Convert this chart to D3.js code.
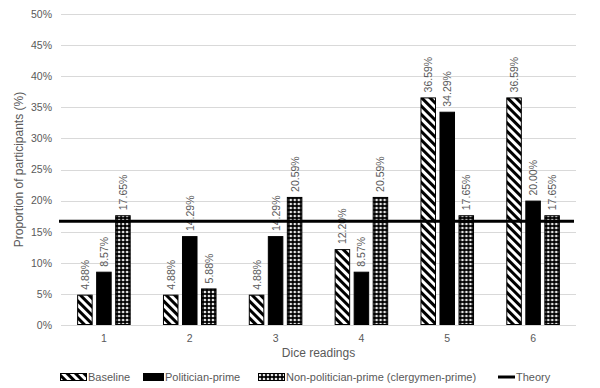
<!DOCTYPE html>
<html>
<head>
<meta charset="utf-8">
<script src="https://cdn.jsdelivr.net/npm/d3@7"></script>
<style>
  body { margin: 0; background: #fff; }
  svg { display: block; font-family: "Liberation Sans", Arial, sans-serif; }
  .tick text { fill: #595959; font-size: 10.5px; }
</style>
</head>
<body>
<div id="chart"></div>
<script>
// data
var categories = ["1", "2", "3", "4", "5", "6"];
var seriesNames = ["Baseline", "Politician-prime", "Non-politician-prime (clergymen-prime)"];
var baseline = [4.88, 4.88, 4.88, 12.20, 36.59, 36.59];
var politician = [8.57, 14.29, 14.29, 8.57, 34.29, 20.00];
var nonPolitician = [17.65, 5.88, 20.59, 20.59, 17.65, 17.65];
var theory = [16.67, 16.67, 16.67, 16.67, 16.67, 16.67];
var yTicks = [0, 5, 10, 15, 20, 25, 30, 35, 40, 45, 50];

var width = 600, height = 388;
var margin = {top: 14, right: 24, bottom: 63, left: 61};
var innerW = width - margin.left - margin.right,
    innerH = height - margin.top - margin.bottom;

var svg = d3.select("#chart").append("svg")
    .attr("width", width)
    .attr("height", height);

//////// PATTERNS ////////
var defs = svg.append("defs");

var stripes = defs.append("pattern")
    .attr("id", "pat-stripes")
    .attr("patternUnits", "userSpaceOnUse")
    .attr("width", 6).attr("height", 6)
    .attr("patternTransform", "rotate(-45)");
stripes.append("rect").attr("width", 6).attr("height", 6).attr("fill", "#fff");
stripes.append("rect").attr("width", 3).attr("height", 6).attr("fill", "#000");

var dots = defs.append("pattern")
    .attr("id", "pat-dots")
    .attr("patternUnits", "userSpaceOnUse")
    .attr("width", 4).attr("height", 4);
dots.append("rect").attr("width", 4).attr("height", 4).attr("fill", "#000");
dots.append("path").attr("d", "M2,0.4L3.6,2L2,3.6L0.4,2Z").attr("fill", "#fff");

var fills = ["url(#pat-stripes)", "#000", "url(#pat-dots)"];

//////// SCALES ////////
var x0 = d3.scaleBand()
    .domain(categories)
    .range([0, innerW])
    .paddingInner(0.376)
    .paddingOuter(0.188);

var x1 = d3.scaleBand()
    .domain(d3.range(seriesNames.length))
    .range([0, x0.bandwidth()])
    .paddingInner(0.184);

var y = d3.scaleLinear()
    .domain([0, 50])
    .range([innerH, 0]);

var xTheory = d3.scalePoint()
    .domain(categories)
    .range([-2, innerW - 2]);

var g = svg.append("g")
    .attr("transform", "translate(" + margin.left + "," + margin.top + ")");

// gridlines
g.append("g")
    .selectAll("line")
    .data(yTicks)
    .enter().append("line")
        .attr("x1", 0)
        .attr("x2", innerW)
        .attr("y1", function(d) { return Math.round(y(d)) + 0.5; })
        .attr("y2", function(d) { return Math.round(y(d)) + 0.5; })
        .attr("stroke", "#d9d9d9")
        .attr("stroke-width", 1);

// y axis
var yAxis = g.append("g")
    .call(d3.axisLeft(y).tickValues(yTicks).tickSize(0).tickPadding(9)
        .tickFormat(function(d) { return d + "%"; }));
yAxis.select(".domain").remove();

// x axis
var xAxis = g.append("g")
    .attr("transform", "translate(0," + innerH + ")")
    .call(d3.axisBottom(x0).tickSize(0).tickPadding(10));
xAxis.select(".domain").remove();

//////// BARS ////////
var series = [baseline, politician, nonPolitician];

var groups = g.append("g")
    .selectAll("g")
    .data(categories)
    .enter().append("g")
        .attr("transform", function(d) { return "translate(" + x0(d) + ",0)"; });

var cells = groups.selectAll("g")
    .data(function(d, i) { return series.map(function(s, k) { return {k: k, value: s[i]}; }); })
    .enter().append("g");

cells.append("rect")
    .attr("x", function(d) { return x1(d.k) + 0.5; })
    .attr("y", function(d) { return y(d.value) + 0.5; })
    .attr("width", x1.bandwidth() - 1)
    .attr("height", function(d) { return innerH - y(d.value) - 1; })
    .attr("fill", function(d) { return fills[d.k]; })
    .attr("stroke", "#000")
    .attr("stroke-width", 1);

cells.append("text")
    .attr("transform", function(d) {
        return "translate(" + (x1(d.k) + x1.bandwidth() / 2 + 4) + "," + (y(d.value) - 5) + ") rotate(-90)";
    })
    .attr("text-anchor", "start")
    .attr("fill", "#595959")
    .attr("font-size", "10.5px")
    .text(function(d) { return d.value.toFixed(2) + "%"; });

//////// THEORY LINE ////////
g.append("path")
    .datum(theory)
    .attr("fill", "none")
    .attr("stroke", "#000")
    .attr("stroke-width", 3)
    .attr("d", d3.line()
        .x(function(d, i) { return xTheory(categories[i]); })
        .y(function(d) { return y(d); }));

//////// AXIS TITLES ////////
svg.append("text")
    .attr("x", margin.left + innerW / 2)
    .attr("y", 357)
    .attr("text-anchor", "middle")
    .attr("fill", "#595959")
    .attr("font-size", "12px")
    .text("Dice readings");

svg.append("text")
    .attr("transform", "translate(23," + (margin.top + innerH / 2) + ") rotate(-90)")
    .attr("text-anchor", "middle")
    .attr("fill", "#595959")
    .attr("font-size", "12px")
    .text("Proportion of participants (%)");

//////// LEGEND ////////
var legendX = [60, 143, 258, 498];
var legend = svg.append("g")
    .selectAll("g")
    .data(seriesNames.concat(["Theory"]))
    .enter().append("g")
        .attr("transform", function(d, i) { return "translate(" + legendX[i] + ",377)"; });

legend.filter(function(d, i) { return i < 3; })
    .append("rect")
        .attr("x", 0.5)
        .attr("y", -3.5)
        .attr("width", function(d, i) { return i === 1 ? 20 : 26; })
        .attr("height", 7)
        .attr("fill", function(d, i) { return fills[i]; })
        .attr("stroke", "#000");

legend.filter(function(d, i) { return i === 3; })
    .append("line")
        .attr("x1", 0).attr("x2", 17)
        .attr("y1", 0).attr("y2", 0)
        .attr("stroke", "#000")
        .attr("stroke-width", 3);

legend.append("text")
    .attr("x", function(d, i) { return [28, 22, 28, 18][i]; })
    .attr("y", 0)
    .attr("dy", "0.35em")
    .attr("fill", "#595959")
    .attr("font-size", "11px")
    .text(function(d) { return d; });
</script>
</body>
</html>
